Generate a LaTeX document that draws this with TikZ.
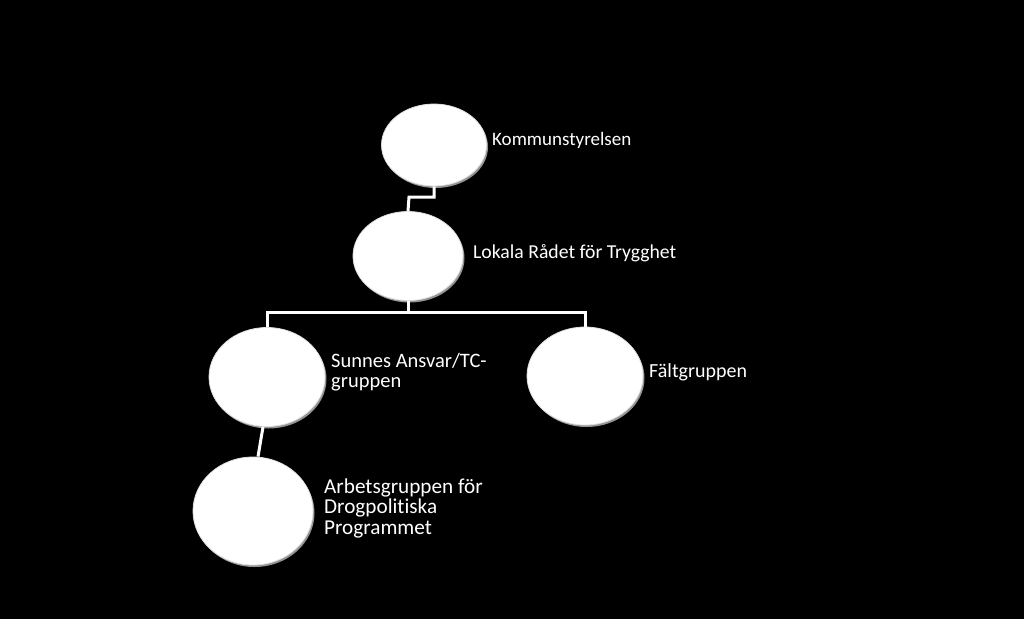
\documentclass[tikz,border=0pt]{standalone}
\usepackage{fontspec}
\setmainfont[Ligatures=NoCommon]{Carlito}
\usetikzlibrary{shapes.geometric,shadows}
\begin{document}
\begin{tikzpicture}[x=1pt,y=-1pt,
  orb/.style={ellipse,fill=white,draw=gray!25,line width=0.8pt,inner sep=0pt,
    drop shadow={fill=gray!55,shadow xshift=1.5pt,shadow yshift=-2pt,opacity=0.8}},
  lbl/.style={anchor=west,text=white,align=left,inner sep=0pt},
  conn/.style={draw=white,line width=3pt}]
\fill[black] (0,0) rectangle (1024,619);
\useasboundingbox (0,0) rectangle (1024,619);
\node[orb,minimum width=105pt,minimum height=82pt] (k) at (434,145) {};
\node[orb,minimum width=110pt,minimum height=89pt] (l) at (408,256) {};
\node[orb,minimum width=116pt,minimum height=99pt] (s) at (267,377) {};
\node[orb,minimum width=116pt,minimum height=98pt] (f) at (585,376) {};
\node[orb,minimum width=120pt,minimum height=108pt] (a) at (253,511) {};
\node[lbl,font=\fontsize{19}{20}\selectfont] (tk) at (492,140) {Kommunstyrelsen};
\node[lbl,font=\fontsize{19.7}{20}\selectfont] (tl) at (473,253) {Lokala Rådet för Trygghet};
\node[lbl,font=\fontsize{20.5}{20}\selectfont] (ts) at (331,372) {Sunnes Ansvar/TC-\\gruppen};
\node[lbl,font=\fontsize{20}{20}\selectfont] (tf) at (649,372) {Fältgruppen};
\node[lbl,font=\fontsize{21.2}{20.5}\selectfont] (ta) at (324,508) {Arbetsgruppen för\\Drogpolitiska\\Programmet};
\coordinate (j1) at (409,197);
\coordinate (bus) at (0,312);
\draw[conn] (k.south) |- (j1) -- (l.north);
\draw[conn] (l.south) -- (l.south |- bus);
\draw[conn] (s.north) |- (bus -| f.north) -- (f.north);
\draw[conn] ([xshift=-4pt]s.south) -- ([xshift=5pt]a.north);
\end{tikzpicture}
\end{document}
